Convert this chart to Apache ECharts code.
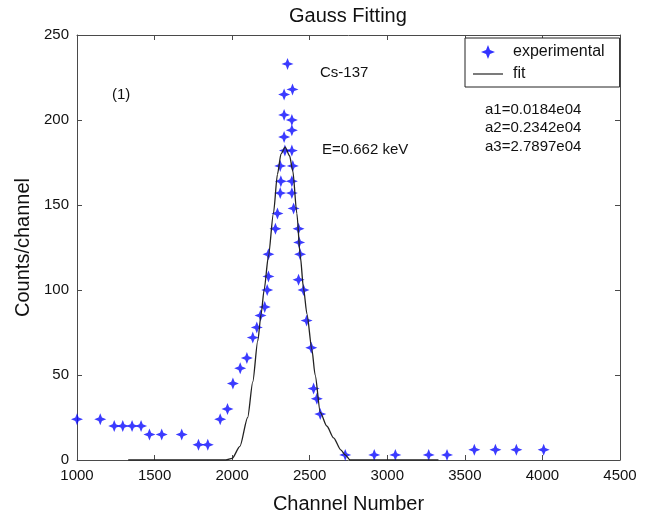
<!DOCTYPE html>
<html>
<head>
<meta charset="utf-8">
<script src="https://cdn.jsdelivr.net/npm/echarts@6/dist/echarts.min.js"></script>
<style>html,body{margin:0;padding:0;background:#fff}#c{width:646px;height:519px}</style>
</head>
<body>
<div id="c"></div>
<script>
// ---- data ----
var xTicks = [1000, 1500, 2000, 2500, 3000, 3500, 4000, 4500];
var yTicks = [0, 50, 100, 150, 200, 250];

var expChannel = [1000,1150,1240,1295,1355,1413,1467,1546,1675,1783,1843,1923,1970,2005,2052,2095,2133,2159,2183,2210,2226,2234,2234,2279,2292,2310,2314,2310,2340,2385,2335,2385,2335,2385,2335,2389,2357,2391,2385,2385,2396,2428,2432,2438,2428,2460,2480,2510,2525,2546,2568,2729,2916,3052,3267,3385,3561,3697,3832,4008];
var expCounts  = [24,24,20,20,20,20,15,15,15,9,9,24,30,45,54,60,72,78,85,90,100,108,121,136,145,157,164,173,182,182,190,194,203,200,215,218,233,173,164,157,148,136,128,121,106,100,82,66,42,36,27,3,3,3,3,3,6,6,6,6];

var fitChannel = [1330,1960,2000,2050,2100,2133,2165,2187,2206,2234,2266,2292,2315,2342,2370,2391,2417,2439,2460,2482,2514,2535,2568,2610,2654,2700,2729,2760,3330];
var fitCounts  = [0,0,1,8,25,46,70,86,100,120,145,168,180,184,179,170,145,120,101,86,65,50,28,20,13,6,3,0,0];

var seriesNames = ['experimental', 'fit'];
var titleText = 'Gauss Fitting';
var xName = 'Channel Number';
var yName = 'Counts/channel';
var notes = ['(1)', 'Cs-137', 'E=0.662 keV', 'a1=0.0184e04', 'a2=0.2342e04', 'a3=2.7897e04'];

// ---- build ----
function zip(a, b) { return a.map(function (v, i) { return [v, b[i]]; }); }
var star = 'path://M0,-10 L2.8,-2.8 L10,0 L2.8,2.8 L0,10 L-2.8,2.8 L-10,0 L-2.8,-2.8 Z';
var lineIcon = 'path://M0,0 M30,14 M0,6.4 L30,6.4 L30,7.6 L0,7.6 Z';
var FONT = '"Liberation Sans", Arial, sans-serif';
var AX = '#4a4a4a';

var xMin = xTicks[0], xMax = xTicks[xTicks.length - 1], xInt = xTicks[1] - xTicks[0];
var yMin = yTicks[0], yMax = yTicks[yTicks.length - 1], yInt = yTicks[1] - yTicks[0];

function plain(v) { return String(v); }

function xAxisCfg(pos, showLabel) {
  return {
    type: 'value', position: pos, min: xMin, max: xMax, interval: xInt,
    axisLine: { show: true, onZero: false, lineStyle: { color: AX, width: 1 } },
    axisTick: { show: true, inside: true, length: 5, lineStyle: { color: AX } },
    axisLabel: { show: showLabel, formatter: plain, color: '#111', fontFamily: FONT, fontSize: 15, margin: 8 },
    splitLine: { show: false },
    name: showLabel ? xName : '', nameLocation: 'middle', nameGap: 34,
    nameTextStyle: { color: '#111', fontFamily: FONT, fontSize: 20 }
  };
}
function yAxisCfg(pos, showLabel) {
  return {
    type: 'value', position: pos, min: yMin, max: yMax, interval: yInt,
    axisLine: { show: true, onZero: false, lineStyle: { color: AX, width: 1 } },
    axisTick: { show: true, inside: true, length: 5, lineStyle: { color: AX } },
    axisLabel: { show: showLabel, formatter: plain, color: '#111', fontFamily: FONT, fontSize: 15, margin: 8 },
    splitLine: { show: false },
    name: showLabel ? yName : '', nameLocation: 'middle', nameGap: 44,
    nameTextStyle: { color: '#111', fontFamily: FONT, fontSize: 20 }
  };
}

function note(text, x, y) {
  return { type: 'text', left: x, top: y - 8, style: { text: text, fill: '#111', font: '15px ' + FONT } };
}

var chart = echarts.init(document.getElementById('c'), null, { renderer: 'canvas' });
chart.setOption({
  animation: false,
  backgroundColor: '#fff',
  grid: { left: 77, right: 26, top: 35, bottom: 58, containLabel: false },
  xAxis: [xAxisCfg('bottom', true), xAxisCfg('top', false)],
  yAxis: [yAxisCfg('left', true), yAxisCfg('right', false)],
  legend: {
    orient: 'vertical', left: 465, top: 38,
    backgroundColor: '#fff', borderColor: '#222', borderWidth: 1, borderRadius: 0,
    padding: [6, 15, 5, 8], itemGap: 6, itemWidth: 30, itemHeight: 14,
    textStyle: { color: '#111', fontFamily: FONT, fontSize: 16, padding: [0, 0, 0, 5] },
    data: [
      { name: seriesNames[0], icon: star, itemStyle: { color: '#0000ff' } },
      { name: seriesNames[1], icon: lineIcon, itemStyle: { color: '#222' } }
    ]
  },
  graphic: [
    { type: 'text', left: 289, top: 6, style: { text: titleText, fill: '#111', font: '20px ' + FONT } },
    note(notes[0], 112, 95),
    note(notes[1], 320, 73),
    note(notes[2], 322, 150),
    note(notes[3], 485, 110),
    note(notes[4], 485, 128),
    note(notes[5], 485, 147)
  ],
  series: [
    {
      name: seriesNames[0], type: 'scatter', data: zip(expChannel, expCounts),
      symbol: star, symbolSize: 12, itemStyle: { color: '#0a0aff' }, z: 2
    },
    {
      name: seriesNames[1], type: 'line', data: zip(fitChannel, fitCounts),
      symbol: 'none', smooth: 0.25, smoothMonotone: 'x',
      lineStyle: { color: '#222', width: 1.3 }, itemStyle: { color: '#222' }, z: 3
    }
  ]
});
</script>
</body>
</html>
